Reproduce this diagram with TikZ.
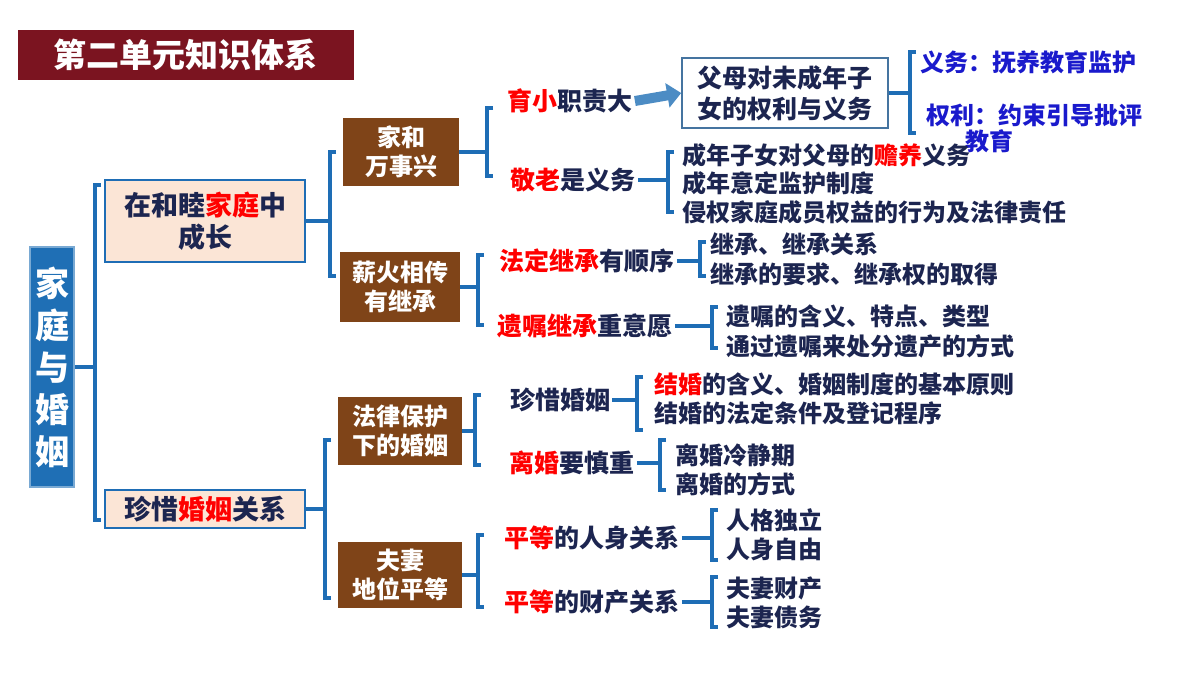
\documentclass[tikz,border=0pt]{standalone}
\usepackage{fontspec}
\setmainfont{Noto Sans CJK SC}
\usetikzlibrary{positioning, arrows.meta}
\definecolor{titlered}{HTML}{7B1420}
\definecolor{mainblue}{HTML}{1F6FB5}
\definecolor{brk}{HTML}{1E6DB5}
\definecolor{brownbox}{HTML}{7F4418}
\definecolor{peach}{HTML}{FBE5D6}
\definecolor{navy}{HTML}{1C2550}
\definecolor{itemblue}{HTML}{1A1ACC}
\newcommand{\rd}[1]{\textcolor{red}{#1}}
% bracket: parent, x, top, bottom
\newcommand{\brkt}[4]{%
  \coordinate (bx) at (#2,0);
  \draw[brkline] (#1.east) -- (#1.east -| bx);
  \draw[brkline] (#2+6,#3) -- (#2,#3) -- (#2,#4) -- (#2+6,#4);}
\begin{document}
\begin{tikzpicture}[x=0.5pt, y=-0.5pt,
    brkline/.style={brk, line width=1.6pt},
    head/.style={draw=brk, line width=1.2pt, fill=peach, text=navy, font=\bfseries\fontsize{13.5}{16}\selectfont, align=center, inner sep=0pt},
    sub/.style={fill=brownbox, text=white, font=\bfseries\fontsize{12}{14.5}\selectfont, align=center, inner sep=0pt},
    mid/.style={text=navy, font=\bfseries\fontsize{12.5}{14}\selectfont, inner sep=1pt},
    leaf/.style={text=navy, font=\bfseries\fontsize{12}{14.5}\selectfont, align=left, inner sep=1pt, anchor=west},
    blue item/.style={text=itemblue, font=\bfseries\fontsize{12}{13}\selectfont, inner sep=1pt, anchor=west}
    ]
    \useasboundingbox (0,0) rectangle (1200,675);

    % title and root
    \node[fill=titlered, text=white, font=\bfseries\fontsize{16.5}{18}\selectfont, minimum width=168pt, minimum height=25pt] (title) at (186,55) {第二单元知识体系};
    \node[fill=mainblue, draw=mainblue!60, line width=1pt, text=white, font=\bfseries\fontsize{17}{21}\selectfont, align=center, minimum width=22pt, minimum height=120pt, inner sep=0pt] (root) at (52,367) {家\\庭\\与\\婚\\姻};

    % level 1
    \node[head, minimum width=100pt, minimum height=41pt] (fam) at (205,221) {在和睦\rd{家庭}中\\成长};
    \node[head, minimum width=100pt, minimum height=19pt] (mar) at (205,509) {珍惜\rd{婚姻}关系};
    \brkt{root}{95}{185}{520}

    % level 2
    \node[sub, minimum width=58pt, minimum height=34pt] (jh) at (401,152) {家和\\万事兴};
    \node[sub, minimum width=60pt, minimum height=35pt] (xh) at (400,287) {薪火相传\\有继承};
    \node[sub, minimum width=62pt, minimum height=34pt] (fl) at (400,431) {法律保护\\下的婚姻};
    \node[sub, minimum width=62pt, minimum height=33pt] (fq) at (400,575) {夫妻\\地位平等};
    \brkt{fam}{330}{152}{276}
    \brkt{mar}{325}{440}{598}

    % 家和万事兴
    \node[mid] (yx) at (570,101) {\rd{育小}职责大};
    \node[mid] (jl) at (573,180) {\rd{敬老}是义务};
    \brkt{jh}{487}{108}{176}
    \node[draw=brk!60!gray, line width=0.8pt, fill=white, text=navy, font=\bfseries\fontsize{12.5}{15.5}\selectfont, align=center, minimum width=103pt, minimum height=35pt, inner sep=0pt] (fm) at (785,93) {父母对未成年子\\女的权利与义务};
    \draw[-{Triangle[length=7pt, width=12pt]}, line width=5pt, mainblue!80] (yx.east) -- (fm.west);
    \brkt{fm}{910}{52}{133}
    \node[blue item] (yw) at (918,62) {义务：抚养教育监护};
    \node[blue item] (ql) at (924,115) {权利：约束引导批评};
    \node[blue item] (jy) at (963,141) {教育};
    \brkt{jl}{668}{152}{212}
    \node[leaf] (l1) at (680,155) {成年子女对父母的\rd{赡养}义务};
    \node[leaf] (l2) at (680,183) {成年意定监护制度};
    \node[leaf] (l3) at (680,212) {侵权家庭成员权益的行为及法律责任};

    % 薪火相传有继承
    \node[mid] (fd) at (587,261) {\rd{法定继承}有顺序};
    \node[mid] (yz) at (585,326) {\rd{遗嘱继承}重意愿};
    \brkt{xh}{478}{255}{325}
    \brkt{fd}{700}{242}{276}
    \node[leaf] (l4) at (708,244) {继承、继承关系};
    \node[leaf] (l5) at (708,274) {继承的要求、继承权的取得};
    \brkt{yz}{712}{307}{348}
    \node[leaf] (l6) at (724,316) {遗嘱的含义、特点、类型};
    \node[leaf] (l7) at (724,346) {通过遗嘱来处分遗产的方式};

    % 法律保护下的婚姻
    \node[mid] (zx) at (560,400) {珍惜婚姻};
    \node[mid] (lh) at (572,463) {\rd{离婚}要慎重};
    \brkt{fl}{475}{395}{465}
    \brkt{zx}{637}{377}{430}
    \node[leaf] (l8) at (652,384) {\rd{结婚}的含义、婚姻制度的基本原则};
    \node[leaf] (l9) at (652,413) {结婚的法定条件及登记程序};
    \brkt{lh}{660}{440}{490}
    \node[leaf] (l10) at (673,455) {离婚冷静期};
    \node[leaf] (l11) at (673,484) {离婚的方式};

    % 夫妻地位平等
    \node[mid] (rs) at (592,538) {\rd{平等}的人身关系};
    \node[mid] (cc) at (592,602) {\rd{平等}的财产关系};
    \brkt{fq}{478}{535}{607}
    \brkt{rs}{712}{510}{560}
    \node[leaf] (l12) at (724,520) {人格独立};
    \node[leaf] (l13) at (724,549) {人身自由};
    \brkt{cc}{712}{577}{627}
    \node[leaf] (l14) at (724,588) {夫妻财产};
    \node[leaf] (l15) at (724,617) {夫妻债务};
\end{tikzpicture}
\end{document}
